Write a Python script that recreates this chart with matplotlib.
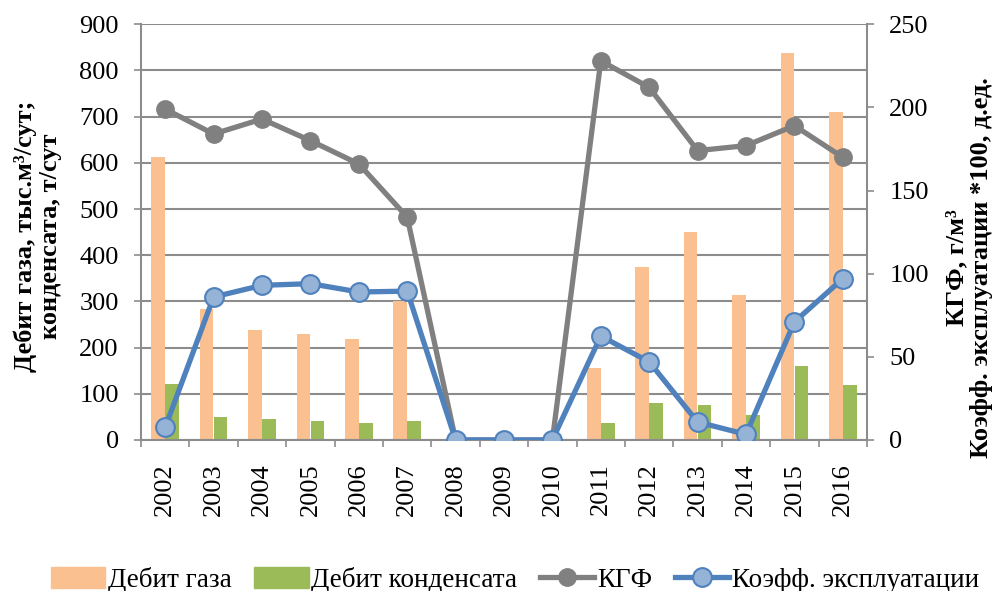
import matplotlib
matplotlib.use("Agg")
import matplotlib.pyplot as plt
import numpy as np
from matplotlib.lines import Line2D
from matplotlib.patches import Patch

plt.rcParams["font.family"] = ["Liberation Serif", "DejaVu Serif"]

years = [str(y) for y in range(2002, 2017)]
gas = [613, 283, 239, 230, 218, 301, 0, 0, 0, 155, 375, 450, 314, 837, 709]
cond = [121, 49, 45, 41, 36, 41, 0, 0, 0, 36, 80, 75, 54, 160, 120]
kgf = [199, 184, 193, 180, 166, 134, 0, 0, 0, 228, 212, 174, 177, 189, 170]
koef = [7.6, 86, 93, 94, 89, 89.5, 0, 0, 0, 62.5, 47, 10.8, 3.4, 71, 97]

GAS_C = "#FAC090"
COND_C = "#9BBB59"
KGF_C = "#808080"
KOEF_C = "#4F81BD"
KOEF_FILL = "#95B3D7"
AXIS_C = "#8C8C8C"

fig = plt.figure(figsize=(10, 5.91), dpi=100)
ax = fig.add_axes([0.141, 0.2555, 0.726, 0.7035])
x = np.arange(len(years))
w = 0.28

ax.bar(x - 0.145, gas, w, color=GAS_C, zorder=2)
ax.bar(x + 0.145, cond, w, color=COND_C, zorder=2)
ax.set_xlim(-0.5, len(years) - 0.5)
ax.set_ylim(0, 900)
ax.set_yticks(range(0, 901, 100))
ax.yaxis.grid(True, color=AXIS_C, lw=1.5, zorder=0)
ax.set_axisbelow(True)

ax.set_xticks(x)
ax.set_xticklabels(years, rotation=90, fontsize=19)
ax.set_xticks(np.arange(-0.5, len(years)), minor=True)
ax.tick_params(axis="x", which="major", length=0, pad=17)
ax.tick_params(axis="x", which="minor", length=5, width=1.2, color=AXIS_C, direction="out")
ax.tick_params(axis="y", labelsize=19, length=5, width=1.2, color=AXIS_C, pad=11)
for s in ("top", "right"):
    ax.spines[s].set_visible(False)
for s in ("left", "bottom"):
    ax.spines[s].set_color(AXIS_C)
    ax.spines[s].set_linewidth(1.5)

ax2 = ax.twinx()
ax2.set_ylim(0, 250)
ax2.set_yticks(range(0, 251, 50))
ax2.tick_params(axis="y", labelsize=19, length=5, width=1.2, color=AXIS_C, pad=11)
for s in ("top", "left", "bottom"):
    ax2.spines[s].set_visible(False)
ax2.spines["right"].set_color(AXIS_C)
ax2.spines["right"].set_linewidth(1.5)

ax2.plot(x, kgf, color=KGF_C, lw=3.8, marker="o", ms=12.5,
         mfc=KGF_C, mec=KGF_C, zorder=3)
ax2.plot(x, koef, color=KOEF_C, lw=3.8, marker="o", ms=13.5,
         mfc=KOEF_FILL, mec=KOEF_C, mew=1.5, zorder=4)

fig.text(0.038, 0.6, "Дебит газа, тыс.м³/сут;\nконденсата, т/сут",
         rotation=90, ha="center", va="center", fontsize=19,
         fontweight="bold", linespacing=1.1)
fig.text(0.969, 0.547, "КГФ, г/м³\nКоэфф. эксплуатации *100, д.ед.",
         rotation=90, ha="center", va="center", fontsize=19,
         fontweight="bold", linespacing=1.1)

handles = [
    Patch(color=GAS_C),
    Patch(color=COND_C),
    Line2D([], [], color=KGF_C, lw=3.8, marker="o", ms=12.5, mfc=KGF_C, mec=KGF_C),
    Line2D([], [], color=KOEF_C, lw=3.8, marker="o", ms=13.5, mfc=KOEF_FILL,
           mec=KOEF_C, mew=1.5),
]
labels = ["Дебит газа", "Дебит конденсата", "КГФ", "Коэфф. эксплуатации"]
fig.legend(handles, labels, loc="center", bbox_to_anchor=(0.515, 0.019),
           ncol=4, frameon=False, fontsize=19.5, handlelength=2.0,
           handleheight=0.8, handletextpad=0.1, columnspacing=0.85,
           borderpad=0, borderaxespad=0)

fig.savefig("out.png", dpi=100)
